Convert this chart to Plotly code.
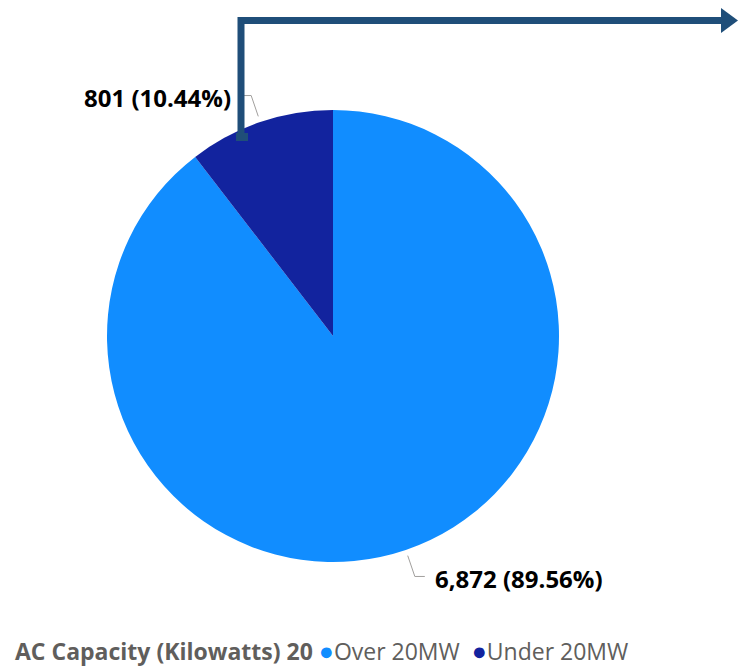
import math
import plotly.graph_objects as go

categories = ["Over 20MW", "Under 20MW"]
values = [6872, 801]
colors = ["#118DFF", "#12239E"]
legend_title = "AC Capacity (Kilowatts) 20"

W, H = 738, 668
CX, CY, R = 333, 336, 226  # pie centre and radius in px


def px(x):
    return x / W


def py(y):
    return 1 - y / H


fig = go.Figure(go.Pie(
    labels=categories, values=values, sort=False, direction="clockwise",
    rotation=0, marker=dict(colors=colors, line=dict(width=0)),
    textinfo="none", hoverinfo="label+value+percent", showlegend=False,
    domain=dict(x=[px(CX - R), px(CX + R)], y=[py(CY + R), py(CY - R)]),
))

total = sum(values)
start = 0.0
shapes = []
annotations = []
for cat, v in zip(categories, values):
    frac = v / total
    mid = (start + frac / 2) * 2 * math.pi
    start += frac
    sx = CX + (R + 6) * math.sin(mid)
    sy = CY - (R + 6) * math.cos(mid)
    ox = CX + (R + 28) * math.sin(mid)
    oy = CY - (R + 28) * math.cos(mid)
    side = 1 if math.sin(mid) >= 0 else -1
    hx = ox + side * 10
    shapes.append(dict(type="path", xref="paper", yref="paper",
                       path=f"M {px(sx)} {py(sy)} L {px(ox)} {py(oy)} L {px(hx)} {py(oy)}",
                       line=dict(color="#A19F9D", width=1)))
    label = f"{v:,} ({frac*100:.2f}%)"
    annotations.append(dict(x=px(hx + side * 8), y=py(oy + 2), xref="paper", yref="paper",
                            text=f"<b>{label}</b>", showarrow=False,
                            xanchor="left" if side > 0 else "right", yanchor="middle",
                            font=dict(family="Open Sans", size=24, color="#000000")))

# Callout arrow
ac = "#1F4E79"
shapes.append(dict(type="path", xref="paper", yref="paper",
                   path=f"M {px(241)} {py(140)} L {px(241)} {py(20.5)} L {px(724)} {py(20.5)}",
                   line=dict(color=ac, width=7)))
shapes.append(dict(type="rect", xref="paper", yref="paper",
                   x0=px(236), x1=px(248), y0=py(141), y1=py(133),
                   fillcolor=ac, line=dict(width=0)))
shapes.append(dict(type="path", xref="paper", yref="paper",
                   path=f"M {px(721)} {py(8)} L {px(738)} {py(20.5)} L {px(721)} {py(33)} Z",
                   fillcolor=ac, line=dict(width=0)))

legend_text = (f"<b>{legend_title}</b> "
               f"<span style='color:{colors[0]};font-size:25px'>●</span>{categories[0]}  "
               f"<span style='color:{colors[1]};font-size:25px'>●</span>{categories[1]}")
annotations.append(dict(x=px(14), y=0, xref="paper", yref="paper",
                        text=legend_text, showarrow=False, xanchor="left", yanchor="bottom",
                        borderpad=0,
                        font=dict(family="Open Sans", size=23, color="#605E5C")))

fig.update_layout(width=W, height=H, margin=dict(l=0, r=0, t=0, b=0),
                  paper_bgcolor="white", plot_bgcolor="white",
                  shapes=shapes, annotations=annotations)
fig.write_html("out.html")
